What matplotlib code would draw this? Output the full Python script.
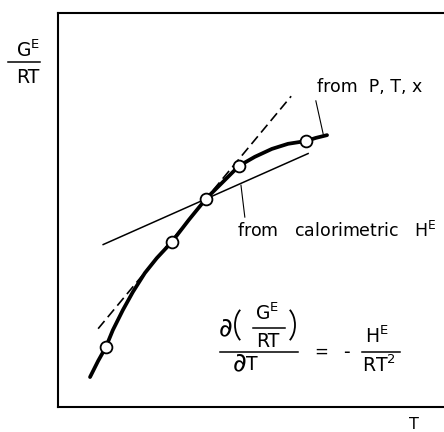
import matplotlib
matplotlib.use('Agg')
import matplotlib.pyplot as plt
from matplotlib.lines import Line2D
from matplotlib.patches import Arc
from matplotlib.transforms import IdentityTransform

plt.rcParams['font.family'] = ['DejaVu Sans']
plt.rcParams['mathtext.default'] = 'regular'

# G^E/RT against T, smooth curve through the P,T,x data (arbitrary units)
curve_T = [0.83, 1.04, 1.24, 1.42, 1.68, 1.94, 2.25, 2.56, 2.95, 3.39,
           3.83, 4.25, 4.69, 5.10, 5.54, 5.96, 6.42, 6.68, 6.97]
curve_G = [0.76, 1.17, 1.52, 1.95, 2.46, 2.92, 3.40, 3.78, 4.19, 4.75,
           5.28, 5.69, 6.12, 6.35, 6.55, 6.68, 6.75, 6.83, 6.90]

# measured points
pts_T = [1.24, 2.95, 3.83, 4.69, 6.42]
pts_G = [1.52, 4.19, 5.28, 6.12, 6.75]

# tangents at the middle point
tan_T0, tan_G0 = 3.83, 5.28
slope_ptx = 1.18      # from P, T, x (dashed)
span_ptx = [1.04, 6.04]
slope_cal = 0.435     # from calorimetric H^E
span_cal = [1.17, 6.48]

# label anchors and leader ends
lab_ptx = (6.71, 7.99)
lead_ptx = [(6.68, 7.77), (6.87, 6.93)]
lab_cal = (4.64, 4.32)
lead_cal = [(4.74, 5.63), (4.84, 4.82)]

W, H = 444, 432
fig = plt.figure(figsize=(W / 100, H / 100), dpi=100)
ax = fig.add_axes([58 / W, 25 / H, 1 - 58 / W, 394 / H])
ax.set_xlim(0, 10)
ax.set_ylim(0, 10)
ax.set_xticks([])
ax.set_yticks([])
ax.spines['right'].set_visible(False)
for s in ['left', 'top', 'bottom']:
    ax.spines[s].set_linewidth(1.5)


def fpos(x, y):
    # pixel position (from top left) -> figure fraction
    return x / W, 1 - y / H


def ftext(x, y, s, size, ha='center'):
    fx, fy = fpos(x, y)
    fig.text(fx, fy, s, fontsize=size, ha=ha, va='baseline')


def fbar(x0, x1, y):
    a, b = fpos(x0, y)
    c, d = fpos(x1, y)
    fig.add_artist(Line2D([a, c], [b, d], transform=fig.transFigure,
                          color='black', lw=1.1))


def paren(cx, cy, left=True):
    # thin bracket drawn as an elliptical arc, pixel coords from top left
    t1, t2 = (120, 240) if left else (-60, 60)
    fig.add_artist(Arc((cx, H - cy), 28, 39, theta1=t1, theta2=t2,
                       transform=IdentityTransform(), color='black', lw=1.3))


# dashed tangent
xd = span_ptx
yd = [tan_G0 + slope_ptx * (x - tan_T0) for x in xd]
ax.plot(xd, yd, color='black', lw=1.2, dashes=(6, 3))

# calorimetric tangent
xc = span_cal
yc = [tan_G0 + slope_cal * (x - tan_T0) for x in xc]
ax.plot(xc, yc, color='black', lw=1.1)

ax.plot(curve_T, curve_G, color='black', lw=2.7, solid_capstyle='round',
        solid_joinstyle='round')
ax.plot(pts_T, pts_G, 'o', ms=8.5, mfc='white', mec='black', mew=1.3)

# labels with leader lines
ax.text(*lab_ptx, 'from  P, T, x', fontsize=12.5, ha='left', va='baseline')
ax.plot(*zip(*lead_ptx), color='black', lw=0.8)
ax.text(*lab_cal, 'from   calorimetric   $H^E$', fontsize=12.5,
        ha='left', va='baseline')
ax.plot(*zip(*lead_cal), color='black', lw=0.8)

# d(G^E/RT)/dT = -H^E/RT^2
ftext(226, 335, '\u2202', 19)
paren(249, 325, left=True)
ftext(267, 320, '$G^E$', 13.5)
fbar(253, 285, 328)
ftext(268, 347, 'RT', 13.5)
paren(281, 325, left=False)
fbar(220, 298, 352)
ftext(240, 370, '\u2202', 19)
ftext(252, 370, 'T', 13.5)
ftext(321, 357, '=', 12)
ftext(346, 358, '-', 13.5)
ftext(377, 343, '$H^E$', 13.5)
fbar(362, 400, 352)
ftext(379, 372, '$RT^2$', 13.5)

# y axis label G^E/RT
ftext(28, 57, '$G^E$', 13.5)
fbar(8, 40, 62)
ftext(28, 83, 'RT', 13.5)

ftext(414, 429, 'T', 11.5)

fig.savefig('out.png', dpi=100)
